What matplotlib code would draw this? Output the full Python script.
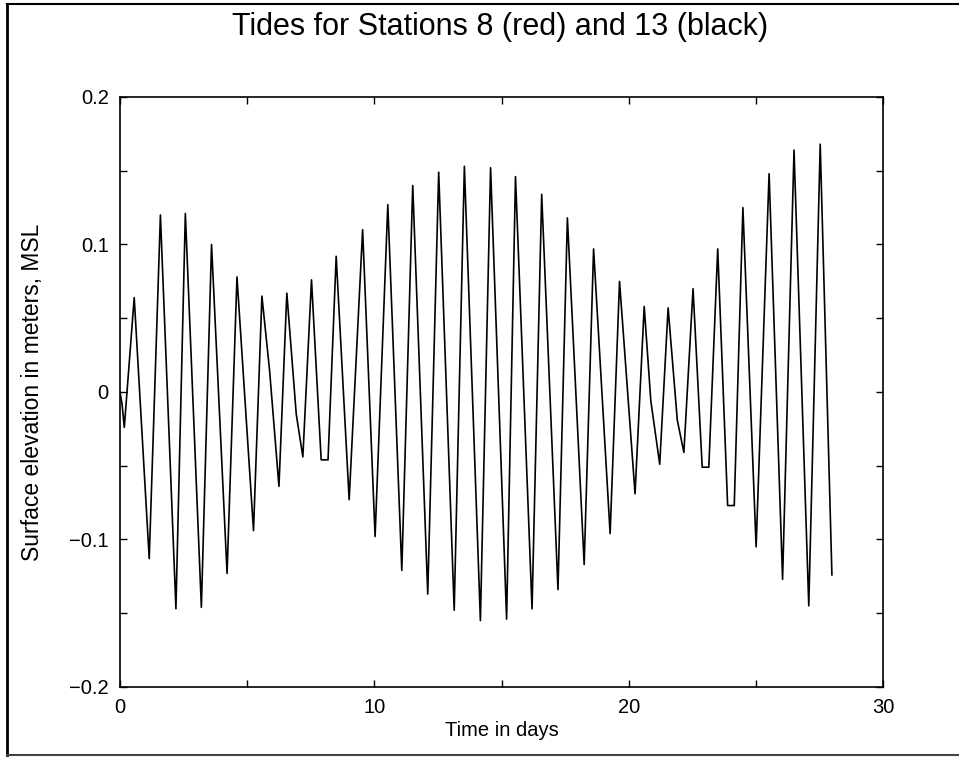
import matplotlib
matplotlib.use('Agg')
import matplotlib.pyplot as plt
from matplotlib.lines import Line2D

plt.rcParams['font.family'] = ['Liberation Sans', 'DejaVu Sans']

# Tide record: highs, lows and the odd shoulder.
days = [0.00, 0.08, 0.17, 0.56, 1.15, 1.59, 2.20, 2.57, 3.20, 3.60, 4.21, 4.60,
        5.25, 5.58, 5.88, 6.25, 6.56, 6.93, 7.19, 7.53, 7.91, 8.18, 8.50, 9.01,
        9.54, 10.03, 10.53, 11.08, 11.51, 12.10, 12.53, 13.14, 13.54, 14.17,
        14.57, 15.20, 15.55, 16.20, 16.58, 17.22, 17.59, 18.25, 18.62, 19.27,
        19.64, 20.25, 20.61, 20.87, 21.22, 21.55, 21.91, 22.17, 22.53, 22.89,
        23.15, 23.50, 23.89, 24.15, 24.49, 25.01, 25.52, 26.05, 26.50, 27.08,
        27.53, 27.99]
elevation = [0.000, -0.008, -0.024, 0.064, -0.113, 0.120, -0.147, 0.121, -0.146,
             0.100, -0.123, 0.078, -0.094, 0.065, 0.015, -0.064, 0.067, -0.015,
             -0.044, 0.076, -0.046, -0.046, 0.092, -0.073, 0.110, -0.098, 0.127,
             -0.121, 0.140, -0.137, 0.149, -0.148, 0.153, -0.155, 0.152, -0.154,
             0.146, -0.147, 0.134, -0.134, 0.118, -0.117, 0.097, -0.096, 0.075,
             -0.069, 0.058, -0.006, -0.049, 0.057, -0.019, -0.041, 0.070, -0.051,
             -0.051, 0.097, -0.077, -0.077, 0.125, -0.105, 0.148, -0.127, 0.164,
             -0.145, 0.168, -0.124]

x_major = [0, 10, 20, 30]
x_minor = [5, 15, 25]
y_major = [-0.2, -0.1, 0, 0.1, 0.2]
y_minor = [-0.15, -0.05, 0.05, 0.15]
y_labels = ['\u22120.2', '\u22120.1', '0', '0.1', '0.2']


def main():
    fig = plt.figure(figsize=(9.59, 7.57), dpi=100)
    ax = fig.add_axes([0.1251, 0.0925, 0.7957, 0.7794])

    ax.plot(days, elevation, color='black', linewidth=1.2)

    ax.set_xlim(0, 30)
    ax.set_ylim(-0.2, 0.2)
    ax.set_xticks(x_major)
    ax.set_xticks(x_minor, minor=True)
    ax.set_yticks(y_major)
    ax.set_yticks(y_minor, minor=True)
    ax.set_yticklabels(y_labels)

    ax.tick_params(which='both', direction='in', top=True, right=True,
                   length=5, width=1.0, labelsize=14.5, pad=8)
    for spine in ax.spines.values():
        spine.set_linewidth(1.2)

    ax.set_xlabel('Time in days', fontsize=14.5)
    ax.xaxis.set_label_coords(0.5, -0.058)
    ax.set_ylabel('Surface elevation in meters, MSL', fontsize=16.5)
    ax.yaxis.set_label_coords(-0.1, 0.5)

    fig.text(0.5214, 0.9538, 'Tides for Stations 8 (red) and 13 (black)',
             fontsize=22, ha='center', va='baseline')

    # page frame from the scan
    fig.add_artist(Line2D([0.0073, 0.0073], [0.003, 0.995], color='black', linewidth=2.0))
    fig.add_artist(Line2D([0.0073, 1.0], [0.995, 0.995], color='black', linewidth=1.5))
    fig.add_artist(Line2D([0.0073, 1.0], [0.003, 0.003], color='#444444', linewidth=1.5))

    fig.savefig('out.png', dpi=100)


if __name__ == '__main__':
    main()
